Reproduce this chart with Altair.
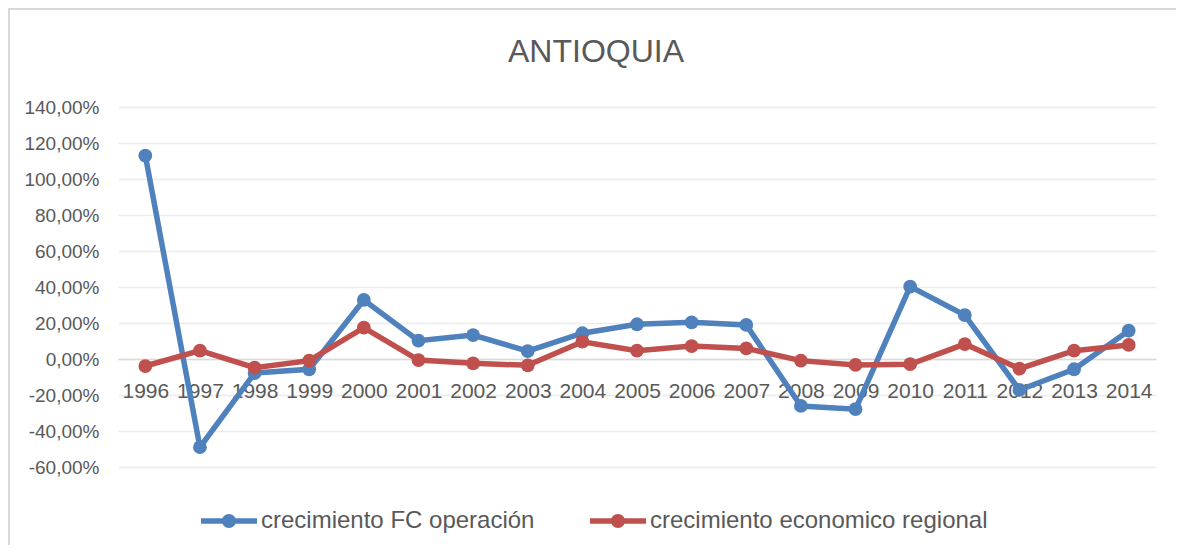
import altair as alt
import pandas as pd

years = [str(y) for y in range(1996, 2015)]
fc_operacion = [1.13, -0.49, -0.078, -0.057, 0.328, 0.102, 0.133, 0.044, 0.143, 0.193,
                0.204, 0.189, -0.261, -0.279, 0.402, 0.244, -0.172, -0.057, 0.157]
economico_regional = [-0.039, 0.046, -0.048, -0.009, 0.174, -0.006, -0.024, -0.035, 0.096, 0.046,
                      0.072, 0.059, -0.009, -0.033, -0.029, 0.083, -0.054, 0.046, 0.078]
series_names = ["crecimiento FC operación", "crecimiento economico regional"]
series_colors = ["#4f81bd", "#c0504d"]
y_ticks = [-0.6, -0.4, -0.2, 0.0, 0.2, 0.4, 0.6, 0.8, 1.0, 1.2, 1.4]

rows = []
for y, a, b in zip(years, fc_operacion, economico_regional):
    rows.append({"year": y, "value": a, "serie": series_names[0]})
    rows.append({"year": y, "value": b, "serie": series_names[1]})
df = pd.DataFrame(rows)

FONT = "Liberation Sans"
TEXT = "#595959"

legend_symbol = ("M-1,-0.1L1,-0.1L1,0.1L-1,0.1Z "
                 "M-0.25,0A0.25,0.25,0,1,1,0.25,0A0.25,0.25,0,1,1,-0.25,0Z")

x_enc = alt.X("year:O", scale=alt.Scale(type="point", padding=0.5),
              axis=alt.Axis(title=None, labelAngle=0, ticks=False, tickSize=0,
                            offset=-108, domainColor="#d9d9d9", domainWidth=1.5,
                            labelFont=FONT, labelFontSize=21, labelColor=TEXT,
                            labelBaseline="middle", labelPadding=32, grid=False,
                            labelOverlap=False))
y_enc = alt.Y("value:Q", scale=alt.Scale(domain=[-0.6, 1.4], nice=False),
              axis=alt.Axis(title=None, values=y_ticks, domain=False, ticks=False, tickSize=0,
                            labelExpr="replace(replace(format(datum.value, '.2%'), '.', ','), '\u2212', '-')",
                            labelFont=FONT, labelFontSize=19, labelColor=TEXT,
                            labelPadding=19, gridColor="#ececec", gridWidth=1.5))
color_enc = alt.Color("serie:N",
                      scale=alt.Scale(domain=series_names, range=series_colors),
                      legend=alt.Legend(title=None, orient="none", direction="horizontal",
                                        legendX=83, legendY=386, padding=0,
                                        symbolType=legend_symbol, symbolSize=3136,
                                        symbolStrokeWidth=0, labelOffset=4,
                                        columnPadding=55, labelLimit=600,
                                        labelFont=FONT, labelFontSize=24, labelColor=TEXT))

base = alt.Chart(df).encode(x=x_enc, y=y_enc, color=color_enc)

layers = []
for name in series_names:
    sub = base.transform_filter(alt.datum.serie == name)
    layers.append(sub.mark_line(strokeWidth=5.5))
    layers.append(sub.mark_point(filled=True, size=190, opacity=1))

border = alt.Chart(df).mark_rect(fill=None, stroke="#d9d9d9", strokeWidth=1.5).encode(
    x=alt.value(-109), x2=alt.value(1060), y=alt.value(-98), y2=alt.value(470)
)

chart = alt.layer(border, *layers).properties(
    width=1038, height=360,
    autosize=alt.AutoSizeParams(type="none"),
    padding={"left": 110, "top": 99, "right": 20, "bottom": 78},
    title=alt.TitleParams("ANTIOQUIA", font=FONT, fontSize=32, fontWeight="normal",
                          color=TEXT, anchor="middle", dx=-41, offset=0, dy=86,
                          baseline="alphabetic"),
).configure_view(stroke=None)

chart.save("out.html", embed_options={"renderer": "svg", "actions": False})
